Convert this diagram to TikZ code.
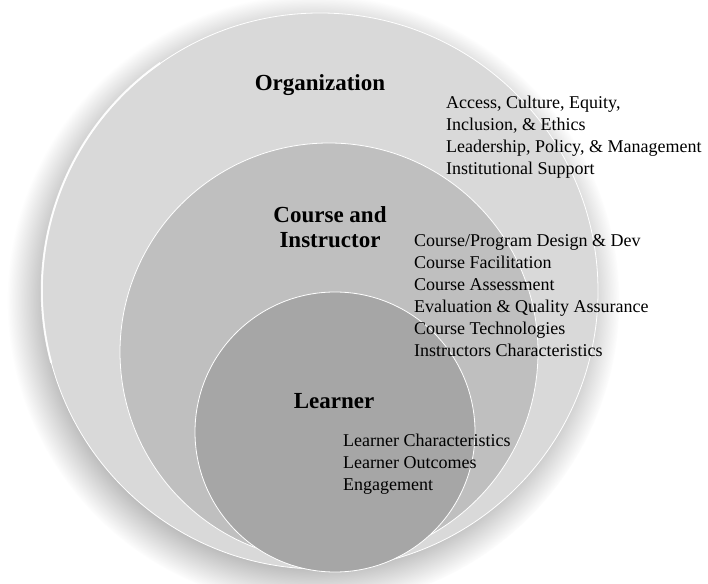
\documentclass[tikz,border=0pt]{standalone}
\usepackage{fontspec}
\setmainfont{Liberation Serif}
\usetikzlibrary{positioning,shadows}

\definecolor{orggray}{HTML}{D9D9D9}
\definecolor{coursegray}{HTML}{BFBFBF}
\definecolor{learnergray}{HTML}{A6A6A6}

\begin{document}
\begin{tikzpicture}[%
    x=1pt,
    y=1pt,
    ring/.style={circle, draw=white, line width=0.8pt, inner sep=0pt},
    title/.style={font=\fontsize{23}{25}\selectfont\bfseries, align=center, inner sep=0pt},
    items/.style={font=\fontsize{18}{22}\selectfont, align=left, anchor=west, inner sep=0pt}
    ]

    \useasboundingbox (0,0) rectangle (708,583);

    % the three nested circles
    \node[ring, fill=orggray, minimum size=556pt,
          circular drop shadow={shadow xshift=-6pt, shadow yshift=-9pt, opacity=0.6}] (org) at (320,292) {};
    \draw[white, line width=2pt, opacity=0.9] (org.125) arc[start angle=125, end angle=195, radius=278pt];
    \node[ring, fill=coursegray, minimum size=418pt] (course) at (329,231) {};
    \node[ring, fill=learnergray, minimum size=280pt] (learner) at (335,151) {};

    % titles
    \node[title] (orgtitle) at (320,498) {Organization};
    \node[title] (coursetitle) at (330,356) {Course and\\Instructor};
    \node[title] (learnertitle) at (334,182) {Learner};

    % topics
    \node[items] (orgitems) at (446,446) {Access, Culture, Equity,\\Inclusion, \& Ethics\\Leadership, Policy, \& Management\\Institutional Support};
    \node[items] (courseitems) at (414,287) {Course/Program Design \& Dev\\Course Facilitation\\Course Assessment\\Evaluation \& Quality Assurance\\Course Technologies\\Instructors Characteristics};
    \node[items] (learneritems) at (343,119) {Learner Characteristics\\Learner Outcomes\\Engagement};

\end{tikzpicture}
\end{document}
